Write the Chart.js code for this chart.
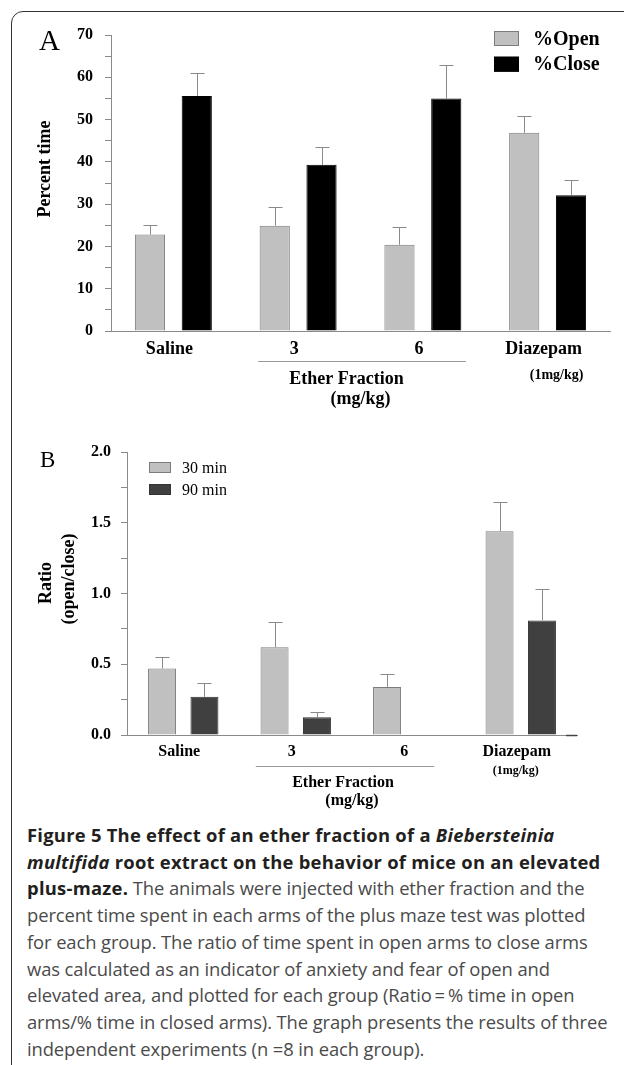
<!DOCTYPE html>
<html lang="en">
<head>
<meta charset="UTF-8">
<title>Figure 5</title>
<script src="https://cdn.jsdelivr.net/npm/chart.js"></script>
<style>
  body { margin: 0; background: #fff; width: 624px; height: 1065px; overflow: hidden; position: relative; }
  .frame { position: absolute; left: 11px; top: 11px; width: 700px; height: 1200px; border: 1.5px solid #333; border-radius: 12px; }
  #chartA { position: absolute; left: 0; top: 0; }
  #chartB { position: absolute; left: 0; top: 415px; }
  .caption { position: absolute; left: 27px; top: 822px; font-family: "Open Sans", sans-serif; font-size: 18.4px; line-height: 26.7px; color: #4a4a4a; white-space: nowrap; letter-spacing: -0.1px; }
  .caption b { color: #231f20; letter-spacing: 0.25px; }
</style>
</head>
<body>
<div class="frame"></div>
<canvas id="chartA" width="624" height="415"></canvas>
<canvas id="chartB" width="624" height="400"></canvas>
<div class="caption">
  <b>Figure 5 The effect of an ether fraction of a <i>Biebersteinia</i></b><br>
  <b><i>multifida</i> root extract on the behavior of mice on an elevated</b><br>
  <b>plus-maze.</b> The animals were injected with ether fraction and the<br>
  percent time spent in each arms of the plus maze test was plotted<br>
  for each group. The ratio of time spent in open arms to close arms<br>
  was calculated as an indicator of anxiety and fear of open and<br>
  elevated area, and plotted for each group (Ratio&#8201;=&#8201;% time in open<br>
  arms/% time in closed arms). The graph presents the results of three<br>
  independent experiments (n =8 in each group).
</div>
<script>
// groups on the x axis
const groups = ['Saline', '3', '6', 'Diazepam'];

// panel A: percent time
const openPct  = [22.8, 24.9, 20.4, 46.9];
const openErr  = [2.2, 4.4, 4.1, 4.0];
const closePct = [55.6, 39.3, 55.0, 32.1];
const closeErr = [5.3, 4.3, 8.0, 3.5];

// panel B: ratio open/close
const ratio30    = [0.47, 0.62, 0.34, 1.44];
const ratio30Err = [0.08, 0.18, 0.09, 0.21];
const ratio90    = [0.27, 0.125, null, 0.81];
const ratio90Err = [0.10, 0.04, null, 0.22];

const SERIF = '"Liberation Serif", "Times New Roman", serif';
const AXIS = '#8a8a8a';

// error bars (upper half only, with cap)
const errorBars = {
  id: 'errorBars',
  afterDatasetsDraw(chart) {
    const ctx = chart.ctx, y = chart.scales.y;
    ctx.save();
    ctx.strokeStyle = '#8a8a8a';
    ctx.lineWidth = 1;
    chart.data.datasets.forEach((ds, di) => {
      const meta = chart.getDatasetMeta(di);
      meta.data.forEach((bar, i) => {
        const v = ds.data[i], e = ds.errors[i];
        if (v == null || e == null) return;
        const top = Math.round(y.getPixelForValue(v + e)) + 0.5;
        const x = Math.round(bar.x) + 0.5;
        ctx.beginPath();
        ctx.moveTo(x, bar.y);
        ctx.lineTo(x, top);
        ctx.moveTo(x - 7, top);
        ctx.lineTo(x + 7, top);
        ctx.stroke();
      });
    });
    ctx.restore();
  }
};

// panel letter, category labels, group labels, titles, legend
const decorations = {
  id: 'decorations',
  afterDraw(chart) {
    const o = chart.options.plugins.decorations;
    const ctx = chart.ctx, x = chart.scales.x;
    ctx.save();
    ctx.fillStyle = '#000';
    ctx.textBaseline = 'alphabetic';
    ctx.textAlign = 'left';
    ctx.font = o.letterSize + 'px ' + SERIF;
    ctx.fillText(o.letter, o.letterX, o.letterY);

    ctx.textAlign = 'center';
    ctx.textBaseline = 'middle';
    ctx.font = 'bold ' + o.catSize + 'px ' + SERIF;
    groups.forEach((g, i) => ctx.fillText(g, x.getPixelForValue(i) - 4, o.catY));

    ctx.font = 'bold ' + o.doseSize + 'px ' + SERIF;
    ctx.fillText('(1mg/kg)', x.getPixelForValue(3) + o.doseDx, o.doseY);

    const mid = (x.getPixelForValue(1) + x.getPixelForValue(2)) / 2;
    ctx.font = 'bold ' + o.catSize + 'px ' + SERIF;
    ctx.fillText('Ether Fraction', mid + o.etherDx, o.etherY);
    ctx.fillText('(mg/kg)', mid, o.etherY + o.catSize + 2);

    ctx.strokeStyle = '#999';
    ctx.lineWidth = 1;
    ctx.beginPath();
    ctx.moveTo(x.getPixelForValue(1) - 40, o.lineY + 0.5);
    ctx.lineTo(x.getPixelForValue(2) + o.lineDx, o.lineY + 0.5);
    ctx.stroke();

    // y title
    ctx.font = 'bold 18px ' + SERIF;
    o.yTitle.forEach(t => {
      ctx.save();
      ctx.translate(t.x, t.y);
      ctx.rotate(-Math.PI / 2);
      ctx.fillText(t.text, 0, 0);
      ctx.restore();
    });

    // legend
    const lg = o.legend;
    chart.data.datasets.forEach((ds, i) => {
      const sy = lg.y + i * lg.step;
      ctx.fillStyle = ds.backgroundColor;
      ctx.fillRect(lg.x, sy, lg.w, lg.h);
      ctx.strokeStyle = ds.borderColor;
      ctx.strokeRect(lg.x + 0.5, sy + 0.5, lg.w - 1, lg.h - 1);
      ctx.fillStyle = '#000';
      ctx.textAlign = 'left';
      ctx.font = lg.font;
      ctx.fillText(ds.label, lg.tx, sy + lg.h / 2 + 1);
    });

    if (o.endMark) {
      ctx.strokeStyle = '#444';
      ctx.lineWidth = 1.5;
      ctx.beginPath();
      ctx.moveTo(x.right - 11, x.top + 0.5);
      ctx.lineTo(x.right, x.top + 0.5);
      ctx.stroke();
    }
    ctx.restore();
  }
};

function yAxis(max, step, width, pad, fmt) {
  return {
    min: 0, max: max,
    afterFit: s => { s.width = width; },
    ticks: { stepSize: step, autoSkip: false, padding: pad, color: '#000',
             font: { family: SERIF, weight: 'bold', size: 16 }, callback: fmt },
    grid: { drawOnChartArea: false, drawTicks: true, tickLength: 6, color: AXIS },
    border: { color: AXIS, width: 1 }
  };
}

function xAxis(height) {
  return {
    afterFit: s => { s.height = height; },
    ticks: { display: false },
    grid: { display: false },
    border: { color: AXIS, width: 1 }
  };
}

new Chart(document.getElementById('chartA'), {
  type: 'bar',
  data: {
    labels: groups,
    datasets: [
      { label: '%Open', data: openPct, errors: openErr, backgroundColor: '#c0c0c0', borderColor: '#7c7c7c', borderWidth: 1 },
      { label: '%Close', data: closePct, errors: closeErr, backgroundColor: '#000', borderColor: '#000', borderWidth: 1 }
    ]
  },
  options: {
    responsive: false, animation: false,
    layout: { padding: { left: 0, right: 14, top: 35, bottom: 0 } },
    datasets: { bar: { barPercentage: 0.645, categoryPercentage: 0.75 } },
    scales: {
      x: xAxis(84),
      y: yAxis(70, 5, 111, 12, v => v % 10 === 0 ? v : '')
    },
    plugins: {
      legend: { display: false }, tooltip: { enabled: false },
      decorations: {
        letter: 'A', letterSize: 29, letterX: 39, letterY: 50,
        catSize: 18, catY: 349,
        doseSize: 14, doseDx: 9, doseY: 375,
        etherDx: -14, etherY: 379, lineY: 361, lineDx: 43,
        yTitle: [{ text: 'Percent time', x: 45, y: 169 }],
        legend: { x: 494, y: 31, step: 25.7, w: 25, h: 15, tx: 533, font: 'bold 20px ' + SERIF },
        endMark: false
      }
    }
  },
  plugins: [errorBars, decorations]
});

new Chart(document.getElementById('chartB'), {
  type: 'bar',
  data: {
    labels: groups,
    datasets: [
      { label: '30 min', data: ratio30, errors: ratio30Err, backgroundColor: '#c0c0c0', borderColor: '#7c7c7c', borderWidth: 1 },
      { label: '90 min', data: ratio90, errors: ratio90Err, backgroundColor: '#404040', borderColor: '#333', borderWidth: 1 }
    ]
  },
  options: {
    responsive: false, animation: false,
    layout: { padding: { left: 0, right: 47, top: 37, bottom: 0 } },
    datasets: { bar: { barPercentage: 0.66, categoryPercentage: 0.754 } },
    scales: {
      x: xAxis(80),
      y: yAxis(2, 0.25, 127, 10, v => Math.round(v * 100) % 50 === 0 ? v.toFixed(1) : '')
    },
    plugins: {
      legend: { display: false }, tooltip: { enabled: false },
      decorations: {
        letter: 'B', letterSize: 23, letterX: 40, letterY: 52,
        catSize: 16, catY: 337,
        doseSize: 12, doseDx: -5, doseY: 356,
        etherDx: -9, etherY: 368, lineY: 351, lineDx: 26,
        yTitle: [{ text: 'Ratio', x: 46, y: 168 }, { text: '(open/close)', x: 69, y: 164 }],
        legend: { x: 149, y: 47, step: 22, w: 22, h: 11, tx: 182, font: '16px ' + SERIF },
        endMark: true
      }
    }
  },
  plugins: [errorBars, decorations]
});
</script>
</body>
</html>
